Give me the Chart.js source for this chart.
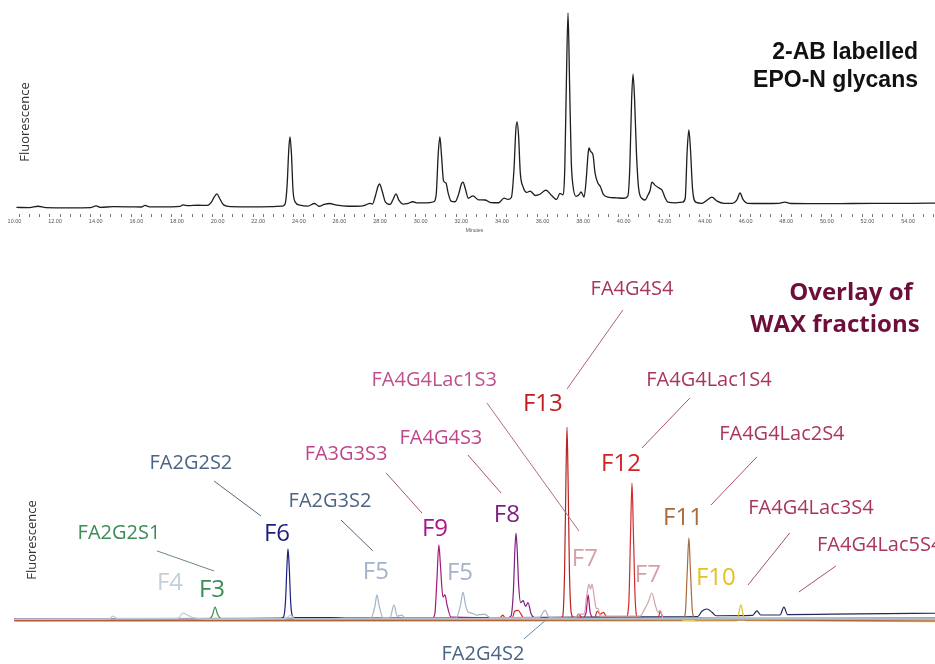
<!DOCTYPE html>
<html>
<head>
<meta charset="utf-8">
<title>EPO-N glycans</title>
<script src="https://cdn.jsdelivr.net/npm/chart.js@4.4.1/dist/chart.umd.min.js"></script>
<style>
    html, body { margin: 0; padding: 0; background: #fff; }
    #wrap { position: relative; width: 935px; height: 664px; overflow: hidden; }
    #wrap canvas { position: absolute; left: 0; }
    #top { top: 0; }
    #bottom { top: 236px; }
</style>
</head>
<body>
<div id="wrap">
    <canvas id="top" width="935" height="236"></canvas>
    <canvas id="bottom" width="935" height="428"></canvas>
</div>
<script>
(function () {
    'use strict';

    // retention time window, minutes
    const T_MIN = 9.73, T_MAX = 55.08;

    // 2-AB labelled EPO-N glycans [minutes, fluorescence]
    const epoProfile = [
        [9.85, 0.3], [10.5, 0.2], [10.91, 0.9], [11.3, 0.2], [12.5, 0.1], [13.5, 0.2],
        [13.77, 1.1], [14.0, 0.3], [14.6, 0.7], [15.5, 0.6], [16.0, 0.5], [16.18, 1.3],
        [16.4, 0.6], [17.5, 0.6], [17.9, 0.8], [18.05, 1.6], [18.3, 1.2], [18.8, 1.4],
        [19.25, 1.3], [19.45, 3.0], [19.6, 5.8], [19.72, 7.2], [19.85, 5.0], [20.05, 1.6],
        [20.4, 0.7], [21.5, 0.6], [22.5, 0.7], [22.95, 1.0], [23.08, 2.0], [23.18, 12],
        [23.26, 30], [23.32, 36.4], [23.39, 28], [23.47, 9], [23.58, 3], [23.8, 1.5],
        [24.2, 1.0], [24.53, 2.3], [24.75, 0.9], [25.0, 1.8], [25.27, 2.3], [25.55, 1.6],
        [26.2, 0.9], [26.8, 1.0], [27.1, 1.8], [27.24, 2.4], [27.38, 2.0], [27.52, 6],
        [27.65, 11], [27.73, 12.3], [27.85, 9], [28.02, 3], [28.25, 1.8], [28.4, 4.5],
        [28.54, 7.2], [28.68, 4], [28.9, 2.0], [29.1, 2.2], [29.37, 3.2], [29.6, 2.6],
        [30.0, 2.6], [30.4, 3.2], [30.52, 7], [30.62, 28], [30.70, 36.4], [30.78, 27],
        [30.88, 14], [31.0, 12.8], [31.1, 8], [31.25, 3.5], [31.45, 3.2], [31.62, 7],
        [31.76, 12.3], [31.84, 13.3], [31.95, 10], [32.1, 5], [32.33, 6.2], [32.6, 4.2],
        [32.92, 4.1], [33.2, 2.8], [33.6, 2.7], [33.86, 5.1], [34.05, 4.4], [34.22, 5.4],
        [34.35, 20], [34.44, 40], [34.50, 44.1], [34.57, 38], [34.66, 18], [34.8, 10.8],
        [34.98, 8.0], [35.14, 8.7], [35.4, 6.4], [35.65, 7.2], [35.92, 9.2], [36.2, 6.4],
        [36.45, 4.4], [36.61, 7.5], [36.75, 6.8], [36.85, 20], [36.93, 65], [37.01, 100],
        [37.09, 62], [37.17, 24], [37.25, 11.8], [37.4, 6.0], [37.55, 6.8], [37.65, 8.2],
        [37.8, 5.6], [37.9, 14], [38.0, 28], [38.04, 30.8], [38.12, 29], [38.24, 27.2],
        [38.34, 18], [38.48, 12.8], [38.6, 11], [38.75, 7], [38.98, 5.6], [39.4, 5.2],
        [39.75, 5.0], [39.95, 6.0], [40.05, 20], [40.14, 55], [40.21, 68.7], [40.29, 55],
        [40.38, 28], [40.5, 9], [40.68, 4.6], [40.8, 4.1], [40.94, 6.5], [41.05, 9],
        [41.14, 13.3], [41.3, 11.6], [41.5, 10.2], [41.64, 9.2], [41.8, 5], [41.93, 3.0],
        [42.3, 2.6], [42.65, 3.0], [42.78, 5], [42.88, 30], [42.96, 40], [43.04, 30],
        [43.14, 10], [43.3, 3], [43.6, 2.4], [43.85, 4], [44.09, 5.6], [44.35, 3.5],
        [44.7, 2.4], [45.1, 2.4], [45.32, 4], [45.48, 7.7], [45.62, 4.5], [45.85, 2.4],
        [46.6, 2.3], [47.4, 2.4], [47.69, 3.0], [48.0, 2.3], [50.0, 2.2], [52.0, 2.4],
        [54.0, 2.4], [55.1, 2.5]
    ];

    // WAX fractions, each [minutes, fluorescence]
    const F3 = [[9.75, 0.5], [14, 0.6], [18, 0.5], [19.35, 0.6], [19.5, 2.5], [19.63, 6.7], [19.76, 2.8],
        [19.95, 0.6], [25, 0.4], [32, 0.3], [40, 0.2], [48, 0.3], [55.1, 0.4]];
    const F4 = [[9.75, 0.3], [14.4, 0.4], [14.6, 2.0], [14.8, 0.8], [17.8, 0.8], [18.05, 3.6], [18.3, 2.4],
        [18.55, 1.2], [19.2, 0.5], [23.1, 0.6], [23.35, 2.6], [23.55, 0.6], [30, 0.4], [55.1, 0.5]];
    const F5 = [[9.75, 0.4], [24, 0.6], [27.3, 0.9], [27.5, 7], [27.6, 13], [27.72, 7], [27.9, 1.2],
        [28.25, 1.4], [28.44, 7.8], [28.6, 2.0], [28.83, 2.5], [29.0, 1], [31.5, 1.0], [31.72, 8],
        [31.84, 14.5], [31.96, 8], [32.1, 4], [32.25, 3.6], [32.5, 2.5], [32.9, 3.0], [33.2, 1.2],
        [35.6, 1.2], [35.87, 5], [36.1, 1.2], [40, 0.8], [55.1, 1]];
    const F6 = [[9.75, 0.5], [18, 0.6], [22.85, 0.8], [23.0, 1.5], [23.1, 10], [23.17, 28], [23.22, 36.8],
        [23.28, 28], [23.36, 8], [23.5, 1.2], [25.3, 1.3], [26, 0.8], [40, 0.7], [55.1, 1.0]];
    const F7 = [[9.75, 0.4], [37.3, 0.8], [37.6, 3], [37.8, 3], [37.95, 14], [38.04, 18.6], [38.12, 16],
        [38.19, 18.6], [38.3, 12], [38.4, 6], [38.48, 6], [38.6, 2], [40.55, 2], [40.8, 6], [40.95, 9],
        [41.14, 14], [41.3, 8], [41.45, 4], [41.54, 5], [41.7, 1], [55.1, 0.6]];
    const F8 = [[9.75, 0.3], [33.9, 0.6], [34.2, 2], [34.32, 15], [34.4, 38], [34.45, 45], [34.5, 38],
        [34.58, 18], [34.68, 9], [34.8, 10], [34.92, 7], [35.04, 9], [35.2, 3], [35.5, 0.8], [55.1, 0.5]];
    const F9 = [[9.75, 0.4], [30.3, 0.6], [30.45, 3], [30.55, 20], [30.65, 38.9], [30.73, 28], [30.85, 12],
        [30.95, 13], [31.05, 8], [31.25, 1.5], [37.7, 1.0], [37.9, 4], [38.0, 13], [38.1, 4], [38.3, 1],
        [55.1, 0.4]];
    const F10 = [[9.75, -0.6], [45.3, -0.5], [45.4, 2.5], [45.52, 7.8], [45.64, 2.5], [45.75, -0.4], [55.1, -0.8]];
    const F11 = [[9.75, -0.3], [42.6, -0.1], [42.78, 3], [42.88, 25], [42.96, 42.5], [43.04, 25], [43.14, 4],
        [43.3, 0], [55.1, -0.5]];
    const F12 = [[9.75, 0.2], [33.6, 0.4], [33.8, 2.5], [33.95, 0.6], [34.25, 0.6], [34.38, 4.5], [34.55, 5],
        [34.7, 3], [34.85, 0.6], [38.3, 0.6], [38.45, 4.5], [38.6, 3], [38.75, 4], [38.95, 0.8], [39.85, 0.8],
        [40.0, 8], [40.09, 45], [40.16, 71], [40.23, 45], [40.32, 10], [40.45, 1], [41.45, 1], [41.55, 4.5],
        [41.7, 1.2], [55.1, 0.4]];
    const F13 = [[9.75, 0.3], [36.6, 0.5], [36.75, 2], [36.84, 25], [36.91, 75], [36.96, 100], [37.01, 75],
        [37.08, 25], [37.18, 3], [37.35, 0.8], [37.55, 3], [37.7, 0.8], [55.1, 0.3]];
    const F14 = [[9.75, 0.6], [30, 1], [40, 1.6], [43.4, 1.8], [43.6, 4.5], [43.85, 5.7], [44.1, 4],
        [44.3, 2.2], [46.1, 2.4], [46.31, 4.7], [46.5, 2.6], [47.45, 2.6], [47.64, 6.7], [47.82, 2.8],
        [50, 3], [55.1, 3.5]];

    const fractions = [
        ['F4', F4, '#bccad3'], ['F5', F5, '#a4b3c9'], ['F7', F7, '#d3a2a7'], ['F9', F9, '#a5157f'],
        ['F8', F8, '#7d1f7f'], ['F12', F12, '#d32b2b'], ['F13', F13, '#b5241f'], ['F11', F11, '#a86a3c'],
        ['F10', F10, '#e3c127'], ['F3', F3, '#3b8c56'], ['F6', F6, '#1c1f7e'], ['F14', F14, '#1f2b5c']
    ];

    const GLY = '"Open Sans", "Noto Sans", sans-serif';
    const PINK = '#c0468c', MAROON = '#a8365e', SLATE = '#4d6585';

    // callouts, anchored in [minutes, fluorescence]
    const calloutText = [
        ['FA4G4S4', 40.16, 172.0, MAROON, 20], ['F13', 35.77, 113.0, '#c01d1d', 24],
        ['FA4G4Lac1S3', 30.42, 124.9, '#c0508c', 20], ['FA4G4Lac1S4', 43.95, 124.9, MAROON, 20],
        ['F12', 39.62, 81.9, '#d42222', 24], ['FA4G4Lac2S4', 47.54, 96.9, MAROON, 20],
        ['F11', 42.67, 53.9, '#a86a3c', 24], ['FA4G4Lac3S4', 48.97, 58.5, MAROON, 20],
        ['F10', 44.29, 22.8, '#e3c127', 24], ['FA4G4Lac5S4', 49.27, 39.4, MAROON, 20, 'left'],
        ['F7', 37.84, 32.6, '#d3a2a7', 24], ['F7', 40.94, 24.4, '#d3a2a7', 24],
        ['F8', 34.0, 55.4, '#7d1f7f', 24], ['FA4G4S3', 30.75, 94.8, PINK, 20],
        ['FA3G3S3', 26.08, 86.5, PINK, 20], ['F9', 30.46, 48.2, '#a8158a', 24],
        ['FA2G2S2', 18.44, 81.9, SLATE, 20], ['F6', 22.68, 45.6, '#1c1f80', 24],
        ['FA2G3S2', 25.29, 62.2, SLATE, 20], ['F5', 27.55, 25.9, '#a4b3c9', 24],
        ['F5', 31.69, 25.4, '#a4b3c9', 24], ['FA2G2S1', 14.9, 45.6, '#3b8c56', 20],
        ['F4', 17.41, 20.2, '#c4d0d8', 24], ['F3', 19.48, 16.6, '#3b8c56', 24],
        ['FA2G4S2', 32.82, -17.1, SLATE, 20]
    ];
    const calloutLines = [
        [39.71, 160.6, 36.96, 119.7, '#b0607a'], [33.02, 112.4, 37.55, 46.1, '#b06a90'],
        [43.01, 115.0, 40.65, 89.1, '#a85070'], [46.31, 84.5, 44.05, 59.6, '#a85070'],
        [47.93, 45.1, 45.87, 18.1, '#a85070'], [50.2, 28.0, 48.38, 14.5, '#a85070'],
        [32.08, 85.5, 33.71, 65.8, '#a85080'], [28.05, 76.2, 29.82, 55.4, '#a85080'],
        [19.58, 72.0, 21.89, 53.9, '#5a6478'], [25.83, 51.8, 27.4, 35.8, '#5a6478'],
        [16.77, 35.8, 19.58, 25.4, '#6a8a72'], [34.84, -9.8, 35.92, 0, '#6a88aa']
    ];

    const toXY = (pts) => pts.map(p => ({ x: p[0], y: p[1] }));

    const panelText = {
        id: 'panelText',
        afterDraw(chart, args, opts) {
            const ctx = chart.ctx, xs = chart.scales.x, ys = chart.scales.y;
            ctx.save();
            (opts.lines || []).forEach(l => {
                ctx.strokeStyle = l[4];
                ctx.lineWidth = 1;
                ctx.beginPath();
                ctx.moveTo(xs.getPixelForValue(l[0]), ys.getPixelForValue(l[1]));
                ctx.lineTo(xs.getPixelForValue(l[2]), ys.getPixelForValue(l[3]));
                ctx.stroke();
            });
            ctx.textBaseline = 'alphabetic';
            (opts.labels || []).forEach(l => {
                ctx.font = l[4] + 'px ' + GLY;
                ctx.fillStyle = l[3];
                ctx.textAlign = l[5] || 'center';
                ctx.fillText(l[0], xs.getPixelForValue(l[1]), ys.getPixelForValue(l[2]) + l[4] * 0.36);
            });
            (opts.fixed || []).forEach(f => {
                ctx.font = f.font;
                ctx.fillStyle = f.color;
                ctx.textAlign = f.align || 'center';
                ctx.textBaseline = 'middle';
                ctx.save();
                ctx.translate(f.x, f.y);
                if (f.rotate) {
                    ctx.rotate(f.rotate);
                }
                ctx.fillText(f.text, 0, 0);
                ctx.restore();
            });
            ctx.restore();
        }
    };

    const baseOptions = (yMin, yMax) => ({
        responsive: false,
        animation: false,
        events: [],
        layout: { padding: { left: 14, right: 0, top: 0, bottom: 0 } },
        elements: { point: { radius: 0 }, line: { cubicInterpolationMode: 'monotone' } },
        plugins: { legend: { display: false }, tooltip: { enabled: false } },
        scales: {
            x: { type: 'linear', min: T_MIN, max: T_MAX, display: false },
            y: { type: 'linear', min: yMin, max: yMax, display: false }
        }
    });

    // top panel
    const topOptions = baseOptions(-3.08, 106.67);
    topOptions.scales.x = {
        type: 'linear', min: T_MIN, max: T_MAX,
        border: { display: false },
        grid: { drawOnChartArea: false, drawTicks: true, tickLength: 3, color: '#555', lineWidth: 0.8 },
        ticks: {
            stepSize: 0.5, includeBounds: false, autoSkip: false, maxRotation: 0, minRotation: 0,
            padding: 1, labelOffset: -5, color: '#555',
            font: { size: 5.5, family: '"Liberation Sans", Arial, sans-serif' },
            callback: v => (Math.abs(v % 2) < 1e-6 ? v.toFixed(2) : '')
        },
        title: { display: true, text: 'Minutes', color: '#555', padding: { top: 0, bottom: 2 },
            font: { size: 5, family: '"Liberation Sans", Arial, sans-serif' } },
        afterFit: s => { s.height = 22; }
    };
    topOptions.plugins.panelText = {
        fixed: [
            { text: '2-AB labelled', x: 918, y: 53, align: 'right', color: '#111',
                font: 'bold 23px "Liberation Sans", Arial, sans-serif' },
            { text: 'EPO-N glycans', x: 918, y: 81, align: 'right', color: '#111',
                font: 'bold 23px "Liberation Sans", Arial, sans-serif' },
            { text: 'Fluorescence', x: 25, y: 122, rotate: -Math.PI / 2, color: '#333',
                font: '13px ' + GLY }
        ]
    };
    new Chart(document.getElementById('top'), {
        type: 'line',
        data: {
            datasets: [{ label: 'EPO-N glycans', data: toXY(epoProfile), borderColor: '#1e1e1e', borderWidth: 1.3, fill: false }]
        },
        options: topOptions,
        plugins: [panelText]
    });

    // bottom panel, WAX fraction overlay
    const bottomOptions = baseOptions(-22.80, 198.96);
    bottomOptions.plugins.panelText = {
        lines: calloutLines,
        labels: calloutText,
        fixed: [
            { text: 'Overlay of', x: 851, y: 57, color: '#6d0f3a', font: 'bold 24px ' + GLY },
            { text: 'WAX fractions', x: 835, y: 89, color: '#6d0f3a', font: 'bold 24px ' + GLY },
            { text: 'Fluorescence', x: 32, y: 304, rotate: -Math.PI / 2, color: '#333', font: '13px ' + GLY }
        ]
    };
    new Chart(document.getElementById('bottom'), {
        type: 'line',
        data: {
            datasets: fractions.map(f => ({
                label: f[0], data: toXY(f[1]), borderColor: f[2], borderWidth: 1.2, fill: false
            }))
        },
        options: bottomOptions,
        plugins: [panelText]
    });
})();
</script>
</body>
</html>
